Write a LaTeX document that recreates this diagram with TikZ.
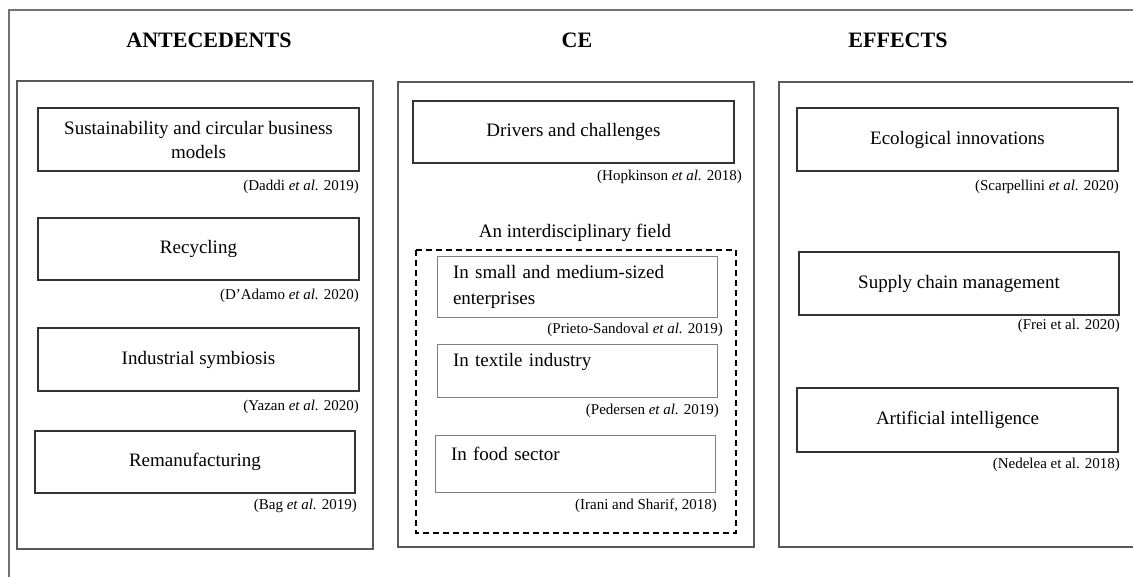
\documentclass[tikz,border=0pt]{standalone}
\usepackage{fontspec}
\setmainfont{Liberation Serif}
\usetikzlibrary{calc}

\begin{document}
\begin{tikzpicture}[x=1pt,y=-1pt,
	head/.style={font=\fontsize{22}{26}\selectfont\bfseries},
	box/.style={draw=black!80, line width=1.6pt, minimum width=321pt, minimum height=63pt,
		inner sep=0pt, align=center, font=\fontsize{19}{24}\selectfont},
	subbox/.style={draw=black!50, line width=1pt, minimum width=280pt, minimum height=60pt,
		text width=248pt, inner xsep=16pt, inner ysep=0pt, align=left,
		font=\fontsize{19}{26}\selectfont},
	cite/.style={anchor=east, inner sep=0pt, font=\fontsize{15}{18}\selectfont},
	frame/.style={draw=black!65, line width=1.4pt}]

	% page
	\clip (0,0) rectangle (1133,576);
	\fill[white] (0,0) rectangle (1133,576);

	% outer frame (runs off the page right and below)
	\draw[draw=black!55, line width=1.2pt] (9,600) -- (9,10) -- (1150,10);

	% column frames
	\coordinate (L1) at (17,81);   \coordinate (L2) at (373,549);
	\coordinate (M1) at (398,82);  \coordinate (M2) at (754,547);
	\coordinate (R1) at (779,82);  \coordinate (R2) at (1140,547);
	\draw[frame] (L1) rectangle (L2);
	\draw[frame] (M1) rectangle (M2);
	\draw[frame] (R1) rectangle (R2);

	% headings
	\node[head] (hant) at (209,40) {ANTECEDENTS};
	\node[head] (hce)  at (577,40) {CE};
	\node[head] (heff) at (898,40) {EFFECTS};

	% antecedents
	\node[box] (sust) at (198.5,139.5) {Sustainability and circular business\\models};
	\node[cite] (csust) at (359,187) {(Daddi \textit{et al.} 2019)};

	\node[box, minimum height=62pt] (recy) at (198.5,249) {Recycling};
	\node[cite] (crecy) at (359,296) {(D'Adamo \textit{et al.} 2020)};

	\node[box] (indu) at (198.5,359.5) {Industrial symbiosis};
	\node[cite] (cindu) at (359,407) {(Yazan \textit{et al.} 2020)};

	\node[box, minimum width=320pt, minimum height=62pt] (rema) at (195,462) {Remanufacturing};
	\node[cite] (crema) at (357,506) {(Bag \textit{et al.} 2019)};

	% CE
	\node[box, minimum height=62pt] (driv) at (573.5,132) {Drivers and challenges};
	\node[cite] (cdriv) at (742,177) {(Hopkinson \textit{et al.} 2018)};

	\node[font=\fontsize{19}{24}\selectfont] (field) at (575,233) {An interdisciplinary field};
	\draw[dashed, line width=1.4pt, dash pattern=on 6pt off 4pt] (416,250) rectangle (736,533);

	\node[subbox, minimum height=61pt] (sme) at (577,286.5) {In small and medium-sized\\enterprises};
	\node[cite] (csme) at (723,330) {(Prieto-Sandoval \textit{et al.} 2019)};

	\node[subbox, minimum height=53pt] (text) at (577,370.5) {In textile industry\\[-4pt]~};
	\node[cite] (ctext) at (719,411) {(Pedersen \textit{et al.} 2019)};

	\node[subbox, minimum height=57pt] (food) at (575,463.5) {In food sector\\[-6pt]~};
	\node[cite] (cfood) at (717,506) {(Irani and Sharif, 2018)};

	% effects
	\node[box] (eco) at (957.5,139.5) {Ecological innovations};
	\node[cite] (ceco) at (1119,187) {(Scarpellini \textit{et al.} 2020)};

	\node[box, minimum width=320pt] (supp) at (959,283.5) {Supply chain management};
	\node[cite] (csupp) at (1120,326) {(Frei et al. 2020)};

	\node[box, minimum height=64pt] (arti) at (957.5,420) {Artificial intelligence};
	\node[cite] (carti) at (1120,465) {(Nedelea et al. 2018)};

\end{tikzpicture}
\end{document}
